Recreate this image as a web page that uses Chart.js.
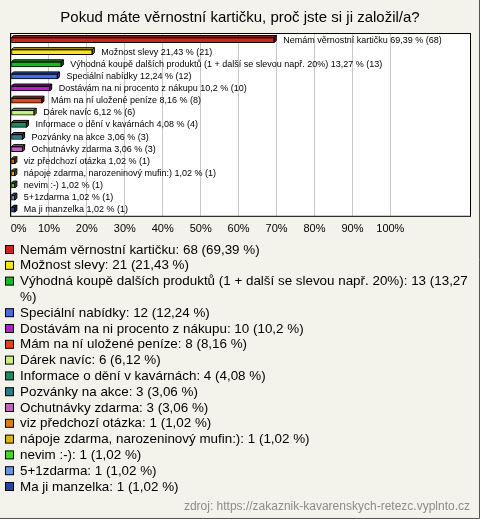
<!DOCTYPE html>
<html>
<head>
<meta charset="utf-8">
<script src="https://cdn.jsdelivr.net/npm/chart.js@4.4.1/dist/chart.umd.min.js"></script>
<style>
  html, body { margin: 0; padding: 0; background: #f4f3eb; }
  #wrap { width: 480px; height: 519px; position: relative; }
</style>
</head>
<body>
<div id="wrap"><canvas id="c" width="480" height="519"></canvas></div>
<script>
// data
const categories = [
    'Nemám věrnostní kartičku',
    'Možnost slevy',
    'Výhodná koupě dalších produktů (1 + další se slevou např. 20%)',
    'Speciální nabídky',
    'Dostávám na ni procento z nákupu',
    'Mám na ní uložené peníze',
    'Dárek navíc',
    'Informace o dění v kavárnách',
    'Pozvánky na akce',
    'Ochutnávky zdarma',
    'viz předchozí otázka',
    'nápoje zdarma, narozeninový mufin:)',
    'nevim :-)',
    '5+1zdarma',
    'Ma ji manzelka'
];
const counts = [68, 21, 13, 12, 10, 8, 6, 4, 3, 3, 1, 1, 1, 1, 1];
const percents = [69.39, 21.43, 13.27, 12.24, 10.2, 8.16, 6.12, 4.08, 3.06, 3.06, 1.02, 1.02, 1.02, 1.02, 1.02];
const colors = [
    '#c8281c', '#f8e418', '#1cb820', '#4a6ae4', '#b420c8',
    '#e0461c', '#c8f07c', '#1c8c5c', '#2a7a8c', '#c460c4',
    '#e07814', '#e0b014', '#44d824', '#6894e4', '#2444a4'
];
const tickValues = [0, 10, 20, 30, 40, 50, 60, 70, 80, 90, 100];

const title = 'Pokud máte věrnostní kartičku, proč jste si ji založil/a?';
const source = 'zdroj: https://zakaznik-kavarenskych-retezc.vyplnto.cz';

function fmt(v) {
    return String(v).replace('.', ',');
}

function shade(hex, f) {
    const n = parseInt(hex.slice(1), 16);
    const r = Math.round(((n >> 16) & 255) * f);
    const g = Math.round(((n >> 8) & 255) * f);
    const b = Math.round((n & 255) * f);
    return 'rgb(' + Math.min(r, 255) + ',' + Math.min(g, 255) + ',' + Math.min(b, 255) + ')';
}

// 3D look + value labels next to the bars
const barDecor = {
    id: 'barDecor',
    afterDatasetsDraw(chart) {
        const ctx = chart.ctx;
        const meta = chart.getDatasetMeta(0);
        const d = 2;
        ctx.save();
        meta.data.forEach((bar, i) => {
            const x0 = bar.base, x1 = bar.x;
            const yt = bar.y - bar.height / 2, yb = bar.y + bar.height / 2;
            ctx.lineWidth = 1;
            ctx.strokeStyle = '#000';
            // top face
            ctx.beginPath();
            ctx.moveTo(x0, yt);
            ctx.lineTo(x0 + d, yt - d);
            ctx.lineTo(x1 + d, yt - d);
            ctx.lineTo(x1, yt);
            ctx.closePath();
            ctx.fillStyle = shade(colors[i], 0.75);
            ctx.fill();
            ctx.stroke();
            // side face
            ctx.beginPath();
            ctx.moveTo(x1, yt);
            ctx.lineTo(x1 + d, yt - d);
            ctx.lineTo(x1 + d, yb - d);
            ctx.lineTo(x1, yb);
            ctx.closePath();
            ctx.fillStyle = shade(colors[i], 0.55);
            ctx.fill();
            ctx.stroke();

            ctx.fillStyle = '#000';
            ctx.font = '9px "Liberation Sans", Arial, sans-serif';
            ctx.textBaseline = 'middle';
            ctx.textAlign = 'left';
            ctx.fillText(categories[i] + ' ' + fmt(percents[i]) + ' % (' + counts[i] + ')', x1 + 9, bar.y);
        });
        // plot frame
        const a = chart.chartArea;
        ctx.strokeStyle = '#000';
        ctx.strokeRect(a.left - 0.5, a.top - 0.5, a.right - a.left + 1, a.bottom - a.top + 1);
        ctx.restore();
    }
};

// title, legend list and source line
const extras = {
    id: 'extras',
    beforeDraw(chart) {
        const ctx = chart.ctx;
        ctx.save();
        ctx.fillStyle = '#f4f3eb';
        ctx.fillRect(0, 0, chart.width, chart.height);
        ctx.fillStyle = '#fff';
        const a = chart.chartArea;
        ctx.fillRect(a.left, a.top, a.right - a.left, a.bottom - a.top);
        ctx.restore();
    },
    afterDraw(chart) {
        const ctx = chart.ctx;
        ctx.save();
        ctx.fillStyle = '#000';
        ctx.textAlign = 'center';
        ctx.textBaseline = 'middle';
        ctx.font = '15px "Liberation Sans", Arial, sans-serif';
        ctx.fillText(title, 240, 18);

        ctx.font = '13.4px "Liberation Sans", Arial, sans-serif';
        ctx.textAlign = 'left';
        const lineH = 15.8;
        const maxW = 455;
        let y = 250;
        categories.forEach((c, i) => {
            ctx.fillStyle = colors[i];
            ctx.fillRect(5.5, y - 4.5, 8, 8);
            ctx.strokeStyle = '#000';
            ctx.lineWidth = 1;
            ctx.strokeRect(5.5, y - 4.5, 8, 8);
            ctx.fillStyle = '#000';
            const text = c + ': ' + counts[i] + ' (' + fmt(percents[i]) + ' %)';
            const words = text.split(' ');
            let line = '';
            words.forEach(w => {
                const test = line ? line + ' ' + w : w;
                if (ctx.measureText(test).width > maxW && line) {
                    ctx.fillText(line, 20, y);
                    line = w;
                    y += lineH;
                } else {
                    line = test;
                }
            });
            ctx.fillText(line, 20, y);
            y += lineH;
        });

        ctx.fillStyle = '#8c8c8c';
        ctx.font = '12px "Liberation Sans", Arial, sans-serif';
        ctx.textAlign = 'right';
        ctx.fillText(source, 470, 507);

        // outer edge
        ctx.strokeStyle = '#555';
        ctx.beginPath();
        ctx.moveTo(479.5, 0);
        ctx.lineTo(479.5, 518.5);
        ctx.lineTo(0, 518.5);
        ctx.stroke();
        ctx.restore();
    }
};

const ctx = document.getElementById('c').getContext('2d');
const chart = new Chart(ctx, {
    type: 'bar',
    data: {
        labels: categories,
        datasets: [{
            data: percents,
            backgroundColor: colors,
            borderColor: '#000',
            borderWidth: 1,
            borderSkipped: false,
            barThickness: 5
        }]
    },
    options: {
        indexAxis: 'y',
        responsive: false,
        animation: false,
        events: [],
        layout: {
            padding: { left: 11, top: 34, right: 10, bottom: 276 }
        },
        plugins: {
            legend: { display: false },
            title: { display: false },
            tooltip: { enabled: false }
        },
        scales: {
            x: {
                min: 0,
                max: 121,
                afterBuildTicks(scale) {
                    scale.ticks = tickValues.map(v => ({ value: v }));
                },
                afterFit(scale) {
                    scale.paddingLeft = 0;
                    scale.paddingRight = 0;
                },
                grid: {
                    color: '#c8c8c8',
                    drawTicks: false
                },
                border: { display: false },
                ticks: {
                    padding: 7,
                    color: '#000',
                    font: { family: '"Liberation Sans", Arial, sans-serif', size: 11 },
                    // first label sits just right of the axis start, as in the original
                    callback: v => (v === 0 ? '     ' : '') + v + '%'
                }
            },
            y: {
                display: false
            }
        }
    },
    plugins: [extras, barDecor]
});
</script>
</body>
</html>
